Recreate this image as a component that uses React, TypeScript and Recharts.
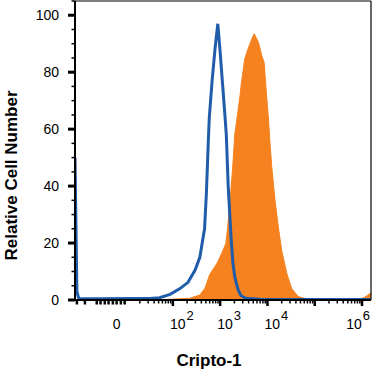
import React from 'react';
import { ComposedChart, Area, Line, XAxis, YAxis, ReferenceLine } from 'recharts';

// x values are in display decades of the biexponential axis (2 = 10^2, 3 = 10^3 ...)
const isotypeT = [
  -0.07, -0.03, 0.01, 0.45, 1.09, 1.51, 1.72, 1.94, 2.15, 2.32, 2.47, 2.57, 2.62, 2.67,
  2.71, 2.75, 2.77, 2.83, 2.89, 2.95, 3.0, 3.05, 3.1, 3.13, 3.17, 3.23, 3.27, 3.31,
  3.38, 3.44, 3.55, 3.84, 4.69, 6.19,
];
const isotypeCount = [
  50, 3, 0.5, 0.4, 0.5, 0.5, 0.8, 2.0, 4.0, 6.2, 10.5, 15, 20, 25,
  38, 56, 64, 77, 88, 97, 87, 76, 65, 58, 40, 22, 13, 8,
  3.5, 1.5, 0.6, 0.3, 0.2, 0.2,
];

const cripto1T = [
  1.87, 2.36, 2.57, 2.68, 2.78, 2.93, 3.03, 3.12, 3.16, 3.21, 3.26, 3.31, 3.35, 3.42,
  3.45, 3.52, 3.59, 3.67, 3.72, 3.81, 3.88, 3.93, 3.98, 4.02, 4.05, 4.09, 4.16, 4.23,
  4.3, 4.41, 4.51, 4.65, 4.86, 5.96, 6.06, 6.19,
];
const cripto1Count = [
  0.2, 0.6, 1.75, 4.2, 9.0, 12.8, 16.3, 19.8, 25.7, 35, 45.5, 58.3, 63, 71.8,
  76.5, 84.7, 88.2, 91.7, 93.5, 90.5, 85.8, 83.5, 72, 64, 56, 47, 35, 25.7,
  17.5, 9.3, 4.1, 1.2, 0.3, 0.3, 1.0, 2.5,
];

const xDomain = [-0.07, 6.19];
const xLabelTicks = [0.81, 2, 3, 4, 6];
const xLabelBase = ['0', '10', '10', '10', '10'];
const xLabelExp = ['', '2', '3', '4', '6'];
const xMajorTicks = [2, 3, 4, 5, 6];
const xLinearTicks = [-0.03, 0.14, 0.39, 0.47, 0.56, 0.64, 0.73, 0.81, 0.9, 0.98];

const yMajorTicks = [0, 20, 40, 60, 80, 100];

const BLUE = '#1f5ca9';
const ORANGE = '#f5821f';
const FONT = '"Liberation Sans", Arial, sans-serif';

const xMinorTicks: number[] = [];
for (let d = 1; d <= 6; d++) {
  for (let k = 2; k <= 9; k++) {
    const t = d + Math.log10(k);
    if (t < xDomain[1]) xMinorTicks.push(t);
  }
}
const xTicks = [...xLinearTicks, ...xMinorTicks, ...xMajorTicks].sort((a, b) => a - b);

const yTicks: number[] = [];
for (let v = 0; v <= 105; v += 5) yTicks.push(v);

const data = [
  ...isotypeT.map((t, i) => ({ t, isotype: isotypeCount[i] })),
  ...cripto1T.map((t, i) => ({ t, cripto1: cripto1Count[i] })),
].sort((a, b) => a.t - b.t);

function XTick({ x, y, payload }: any) {
  const v = payload.value;
  const major = xMajorTicks.includes(v);
  const linear = xLinearTicks.includes(v);
  const len = major ? 6 : linear ? 4.5 : 3.5;
  const w = major || linear ? 2.5 : 1.5;
  const li = xLabelTicks.indexOf(v);
  const last = v === 6;
  return (
    <g>
      <line x1={x} x2={x} y1={y} y2={y + len} stroke="#000" strokeWidth={w} />
      {li >= 0 && (
        <text
          x={last ? x + 8 : li === 0 ? x : x - 3}
          y={y + 29}
          textAnchor={last ? 'end' : li === 0 ? 'middle' : 'start'}
          fontSize={14}
          fontFamily={FONT}
          fill="#000"
        >
          <tspan>{xLabelBase[li]}</tspan>
          {xLabelExp[li] && (
            <tspan dx={1} dy={-9.5} fontSize={13}>
              {xLabelExp[li]}
            </tspan>
          )}
        </text>
      )}
    </g>
  );
}

function YTick({ x, y, payload }: any) {
  const v = payload.value;
  const major = yMajorTicks.includes(v);
  return (
    <g>
      <line x1={x - (major ? 7 : 3.5)} x2={x} y1={y} y2={y} stroke="#000" strokeWidth={major ? 3 : 1.5} />
      {major && (
        <text x={x - 16} y={y} dy={5} textAnchor="end" fontSize={14} fontFamily={FONT} fill="#000">
          {v}
        </text>
      )}
    </g>
  );
}

function YTitle({ viewBox }: any) {
  const cy = viewBox.y + viewBox.height / 2 + 25;
  return (
    <text
      x={17}
      y={cy}
      transform={`rotate(-90, 17, ${cy})`}
      textAnchor="middle"
      fontSize={17}
      fontWeight="bold"
      fontFamily={FONT}
      fill="#000"
    >
      Relative Cell Number
    </text>
  );
}

function XTitle({ viewBox }: any) {
  return (
    <text
      x={viewBox.x + viewBox.width / 2 - 14}
      y={viewBox.y + 66}
      textAnchor="middle"
      fontSize={17}
      fontWeight="bold"
      fontFamily={FONT}
      fill="#000"
    >
      Cripto-1
    </text>
  );
}

export default function App() {
  return (
    <div style={{ position: 'absolute', left: 0, top: 0, background: '#fff' }}>
      <ComposedChart width={372} height={373} data={data} margin={{ top: 1, right: 1, bottom: 0, left: 0 }}>
        <XAxis
          dataKey="t"
          type="number"
          domain={xDomain}
          ticks={xTicks}
          interval={0}
          tick={<XTick />}
          tickLine={false}
          tickSize={0}
          tickMargin={0}
          height={73}
          axisLine={{ stroke: '#000', strokeWidth: 2 }}
          allowDataOverflow
          label={<XTitle />}
        />
        <YAxis
          type="number"
          domain={[0, 105]}
          ticks={yTicks}
          interval={0}
          tick={<YTick />}
          tickLine={false}
          tickSize={0}
          tickMargin={0}
          width={75}
          axisLine={{ stroke: '#000', strokeWidth: 2 }}
          allowDataOverflow
          label={<YTitle />}
        />
        <ReferenceLine y={105} stroke="#000" strokeWidth={1.2} />
        <ReferenceLine x={xDomain[1]} stroke="#000" strokeWidth={1.2} />
        <Area
          type="linear"
          dataKey="cripto1"
          fill={ORANGE}
          fillOpacity={1}
          stroke={ORANGE}
          strokeWidth={1}
          connectNulls
          dot={false}
          activeDot={false}
          isAnimationActive={false}
        />
        <Line
          type="linear"
          dataKey="isotype"
          stroke={BLUE}
          strokeWidth={3}
          connectNulls
          dot={false}
          activeDot={false}
          isAnimationActive={false}
        />
      </ComposedChart>
    </div>
  );
}
